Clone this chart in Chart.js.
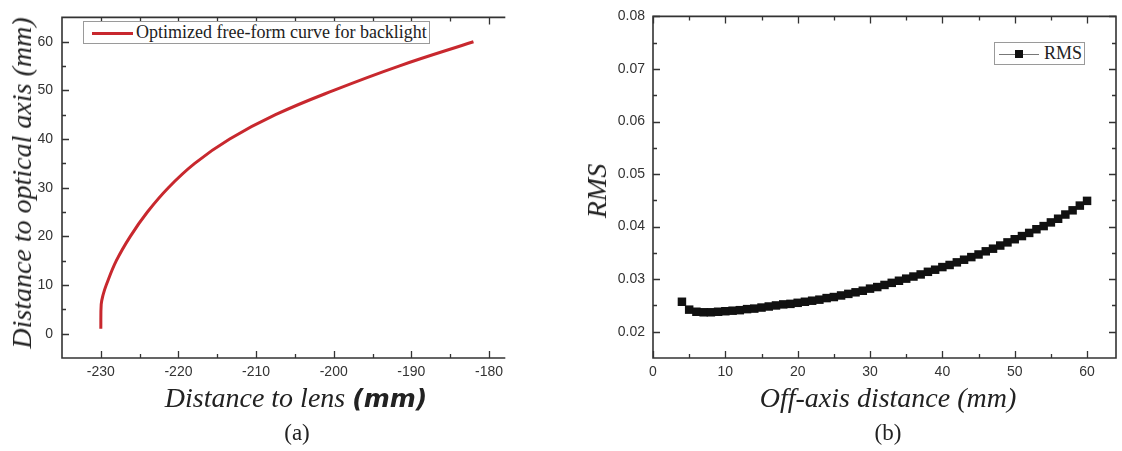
<!DOCTYPE html>
<html>
<head>
<meta charset="utf-8">
<script src="https://cdn.jsdelivr.net/npm/chart.js@4.4.1/dist/chart.umd.min.js"></script>
<style>
  html, body { margin: 0; padding: 0; background: #fff; }
  #wrap { position: relative; width: 1122px; height: 451px; overflow: hidden; background: #fff; }
  canvas { position: absolute; top: 0; }
  .t { position: absolute; white-space: nowrap; color: #222; font-family: "Liberation Serif", "DejaVu Serif", serif; }
  .c { transform: translate(-50%, -50%); }
  .r { transform: translate(-50%, -50%) rotate(-90deg); }
  .legend { position: absolute; border: 1px solid #9a9a9a; background: #fff; box-sizing: border-box; }
</style>
</head>
<body>
<div id="wrap">
  <canvas id="left" width="509" height="451" style="left:0px"></canvas>
  <canvas id="right" width="562" height="451" style="left:560px"></canvas>

  <div class="t r" style="left:22px; top:183px; font-size:28px; font-style:italic;">Distance to optical axis (mm)</div>
  <div class="t c" style="left:296px; top:398px; font-size:28px; font-style:italic;">Distance to lens <span style="font-family:'DejaVu Sans',sans-serif; font-weight:bold; font-size:25px;">(mm)</span></div>
  <div class="t c" style="left:297px; top:433px; font-size:23px;">(a)</div>

  <div class="t r" style="left:597px; top:191px; font-size:28px; font-style:italic;">RMS</div>
  <div class="t c" style="left:888px; top:398px; font-size:28px; font-style:italic;">Off-axis distance (mm)</div>
  <div class="t c" style="left:888px; top:433px; font-size:23px;">(b)</div>

  <div class="legend" style="left:83px; top:21px; width:347px; height:23px;">
    <div style="position:absolute; left:8px; top:10px; width:41px; height:3px; background:#c8282e;"></div>
    <div class="t" style="left:52px; top:0px; font-size:18px;">Optimized free-form curve for backlight</div>
  </div>
  <div class="legend" style="left:994px; top:42px; width:91px; height:23px;">
    <div style="position:absolute; left:4px; top:11px; width:40px; height:1px; background:#777;"></div>
    <div style="position:absolute; left:20px; top:7px; width:8px; height:8px; background:#111;"></div>
    <div class="t" style="left:49px; top:0px; font-size:18px;">RMS</div>
  </div>
</div>

<script>
// ---------- data ----------
// (a) optimized free-form curve
const lensDistance = [-230, -229.95, -229.7, -229.3, -228.0, -226.2, -224.0, -221.3, -217.9, -213.4, -207.5, -200.0, -191.6, -182.0];
const axisDistance = [1, 6, 8, 10, 15, 20, 25, 30, 35, 40, 45, 50, 55, 60];

// (b) RMS vs off-axis distance
const offAxis = [4, 5, 6, 7, 8, 9, 10, 11, 12, 13, 14, 15, 16, 17, 18, 19, 20, 21, 22, 23, 24, 25, 26, 27, 28, 29, 30,
  31, 32, 33, 34, 35, 36, 37, 38, 39, 40, 41, 42, 43, 44, 45, 46, 47, 48, 49, 50, 51, 52, 53, 54, 55, 56, 57, 58, 59, 60];
const rmsValues = [0.0257, 0.0242, 0.0238, 0.0237, 0.0237, 0.0238, 0.0239, 0.0240, 0.0241, 0.0243, 0.0244, 0.0246,
  0.0248, 0.0250, 0.0252, 0.0253, 0.0255, 0.0257, 0.0259, 0.0261, 0.0264, 0.0266, 0.0269, 0.0272, 0.0275, 0.0278,
  0.0282, 0.0285, 0.0289, 0.0293, 0.0297, 0.0301, 0.0305, 0.0309, 0.0314, 0.0318, 0.0323, 0.0327, 0.0332, 0.0337,
  0.0342, 0.0347, 0.0353, 0.0358, 0.0364, 0.0370, 0.0376, 0.0382, 0.0388, 0.0395, 0.0401, 0.0408, 0.0415, 0.0423,
  0.0431, 0.0440, 0.0449];

// tick values and labels
const aXTicks = [-230, -220, -210, -200, -190, -180];
const aXLabels = ['-230', '-220', '-210', '-200', '-190', '-180'];
const aYTicks = [0, 10, 20, 30, 40, 50, 60];
const aYLabels = ['0', '10', '20', '30', '40', '50', '60'];
const bXTicks = [0, 10, 20, 30, 40, 50, 60];
const bXLabels = ['0', '10', '20', '30', '40', '50', '60'];
const bYTicks = [0.02, 0.03, 0.04, 0.05, 0.06, 0.07, 0.08];
const bYLabels = ['0.02', '0.03', '0.04', '0.05', '0.06', '0.07', '0.08'];

// ---------- helpers ----------
const tickFont = { family: "'Liberation Sans', Arial, sans-serif", size: 14 };
const tickColor = '#333';

function fixedTicks(values, labels, sizeProp, size, padding) {
  return {
    afterBuildTicks: (s) => { s.ticks = values.map(v => ({ value: v })); },
    afterFit: (s) => { s[sizeProp] = size; },
    ticks: {
      font: tickFont, color: tickColor, padding: padding,
      autoSkip: false, maxRotation: 0,
      callback: (v) => { const i = values.findIndex(t => Math.abs(t - v) < 1e-9); return i >= 0 ? labels[i] : ''; }
    },
    grid: { display: false, drawTicks: false },
    border: { display: false }
  };
}

// Origin-style frame with inward major/minor ticks, drawn through the chart's scales
const framePlugin = {
  id: 'frame',
  afterDraw(chart, args, o) {
    const { ctx, chartArea: a } = chart;
    const xs = chart.scales.x, ys = chart.scales.y;
    ctx.save();
    ctx.strokeStyle = o.color;
    ctx.lineWidth = o.width;
    ctx.lineCap = 'square';
    ctx.beginPath();
    ctx.moveTo(a.left, a.top); ctx.lineTo(a.left, a.bottom); ctx.lineTo(a.right, a.bottom);
    ctx.moveTo(a.left, a.top); ctx.lineTo(a.right, a.top);
    if (o.right) { ctx.moveTo(a.right, a.top); ctx.lineTo(a.right, a.bottom); }
    ctx.stroke();
    ctx.lineCap = 'butt';
    const minors = (vals, step, min, max) => {
      const out = [];
      const first = vals[0] - step / 2;
      for (let v = first - step * 3; v <= max + 1e-9; v += step) {
        if (v > min + 1e-9 && v < max - 1e-9 && vals.every(t => Math.abs(t - v) > step / 4)) out.push(v);
      }
      return out;
    };
    const drawX = (v, len) => {
      const p = Math.round(xs.getPixelForValue(v)) + 0.5;
      if (p < a.left - 0.5 || p > a.right + 0.5) return;
      ctx.moveTo(p, a.bottom); ctx.lineTo(p, a.bottom - len);
      ctx.moveTo(p, a.top); ctx.lineTo(p, a.top + len);
    };
    const drawY = (v, len) => {
      const p = Math.round(ys.getPixelForValue(v)) + 0.5;
      if (p < a.top - 0.5 || p > a.bottom + 0.5) return;
      ctx.moveTo(a.left, p); ctx.lineTo(a.left + len, p);
      if (o.right) { ctx.moveTo(a.right, p); ctx.lineTo(a.right - len, p); }
    };
    ctx.beginPath();
    ctx.lineWidth = 1.3;
    o.xTicks.forEach(v => drawX(v, o.major));
    o.yTicks.forEach(v => drawY(v, o.major));
    minors(o.xTicks, o.xStep, xs.min, xs.max).forEach(v => drawX(v, o.minor));
    minors(o.yTicks, o.yStep, ys.min, ys.max).forEach(v => drawY(v, o.minor));
    ctx.stroke();
    ctx.restore();
  }
};

// ---------- chart (a) ----------
new Chart(document.getElementById('left'), {
  type: 'scatter',
  data: {
    datasets: [{
      label: 'Optimized free-form curve for backlight',
      data: lensDistance.map((x, i) => ({ x: x, y: axisDistance[i] })),
      showLine: true,
      borderColor: '#c8282e',
      borderWidth: 3,
      pointRadius: 0,
      tension: 0.4,
      clip: false
    }]
  },
  options: {
    responsive: false,
    animation: false,
    devicePixelRatio: 1,
    layout: { padding: { top: 7, right: 0, bottom: 63, left: 0 } },
    plugins: {
      legend: { display: false },
      tooltip: { enabled: false },
      frame: { color: '#333', width: 1.6, right: false, xTicks: aXTicks, yTicks: aYTicks, xStep: 10, yStep: 10, major: 7, minor: 4 }
    },
    scales: {
      x: Object.assign({ type: 'linear', min: -235, max: -178 }, fixedTicks(aXTicks, aXLabels, 'height', 30, 6)),
      y: Object.assign({ type: 'linear', min: -5, max: 65 }, fixedTicks(aYTicks, aYLabels, 'width', 62, 9))
    }
  },
  plugins: [framePlugin]
});

// ---------- chart (b) ----------
new Chart(document.getElementById('right'), {
  type: 'scatter',
  data: {
    datasets: [{
      label: 'RMS',
      data: offAxis.map((x, i) => ({ x: x, y: rmsValues[i] })),
      showLine: true,
      borderColor: '#111',
      borderWidth: 1,
      pointStyle: 'rect',
      pointRadius: 6,
      pointBackgroundColor: '#111',
      pointBorderColor: '#111',
      pointBorderWidth: 0,
      clip: false
    }]
  },
  options: {
    responsive: false,
    animation: false,
    devicePixelRatio: 1,
    layout: { padding: { top: 14, right: 3, bottom: 63, left: 0 } },
    plugins: {
      legend: { display: false },
      tooltip: { enabled: false },
      frame: { color: '#333', width: 1.6, right: true, xTicks: bXTicks, yTicks: bYTicks, xStep: 10, yStep: 0.01, major: 7, minor: 4 }
    },
    scales: {
      x: Object.assign({ type: 'linear', min: 0, max: 64 }, fixedTicks(bXTicks, bXLabels, 'height', 30, 6)),
      y: Object.assign({ type: 'linear', min: 0.015, max: 0.08 }, fixedTicks(bYTicks, bYLabels, 'width', 93, 8))
    }
  },
  plugins: [framePlugin]
});
</script>
</body>
</html>
